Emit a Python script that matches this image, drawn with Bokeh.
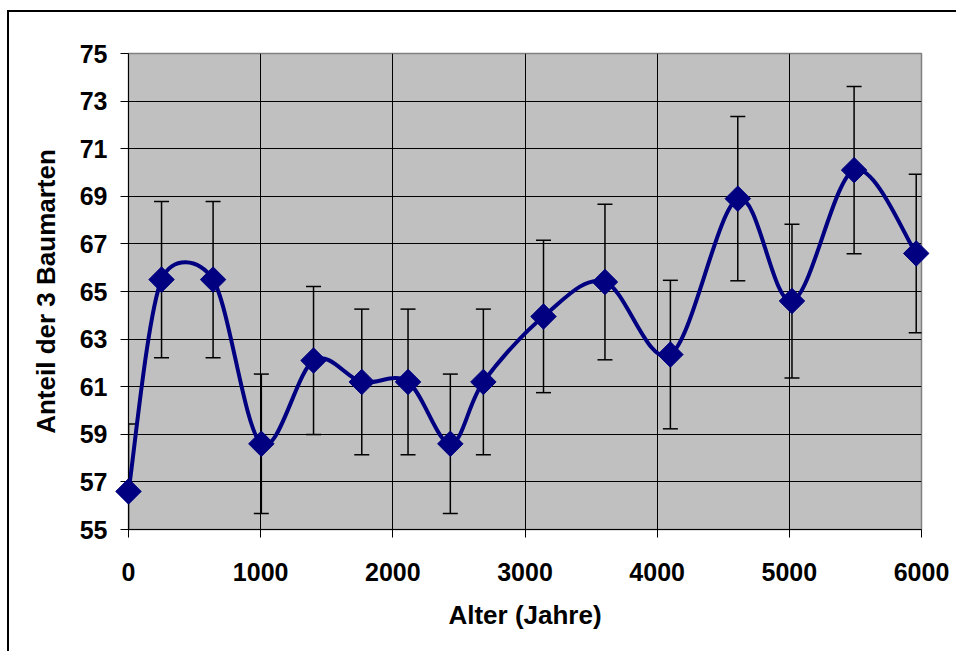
import numpy as np
from bokeh.plotting import figure
from bokeh.models import Range1d, FixedTicker, ColumnDataSource
from bokeh.embed import file_html
from bokeh.resources import INLINE

# ---- data ----
alter = [0, 250, 640, 1005, 1400, 1765, 2115, 2435, 2685, 3140, 3605, 4100, 4610, 5020, 5490, 5960]
anteil = [56.6, 65.5, 65.5, 58.6, 62.1, 61.2, 61.2, 58.6, 61.2, 63.95, 65.4, 62.35, 68.9, 64.6, 70.1, 66.6]
fehler = [2.83, 3.28, 3.28, 2.93, 3.11, 3.06, 3.06, 2.93, 3.06, 3.2, 3.27, 3.12, 3.45, 3.23, 3.51, 3.33]
x_ticks = [0, 1000, 2000, 3000, 4000, 5000, 6000]
y_ticks = [55, 57, 59, 61, 63, 65, 67, 69, 71, 73, 75]

W, H = 949, 641
ML, MR, MT, MB = 119, 37, 41, 124
FW, FH = W - ML - MR, H - MT - MB


def excel_smooth(xs, ys, kx, ky):
    """Excel-like smoothed line: Bezier control points computed in screen space."""
    P = np.column_stack([np.asarray(xs, float) * kx, np.asarray(ys, float) * ky])
    n = len(P)
    out = {k: [] for k in ("x0", "y0", "x1", "y1", "cx0", "cy0", "cx1", "cy1")}
    for i in range(n - 1):
        pm, p0, p1, p2 = P[max(i - 1, 0)], P[i], P[i + 1], P[min(i + 2, n - 1)]
        d = np.hypot(*(p1 - p0))
        v = p1 - pm
        dv = np.hypot(*v)
        f0 = 1 / 6 if dv / 6 < d / 2 else (d / 2) / dv
        w = p2 - p0
        dw = np.hypot(*w)
        f1 = 1 / 6 if dw / 6 < d / 2 else (d / 2) / dw
        c0 = p0 + v * f0
        c1 = p1 - w * f1
        out["x0"].append(p0[0] / kx); out["y0"].append(p0[1] / ky)
        out["x1"].append(p1[0] / kx); out["y1"].append(p1[1] / ky)
        out["cx0"].append(c0[0] / kx); out["cy0"].append(c0[1] / ky)
        out["cx1"].append(c1[0] / kx); out["cy1"].append(c1[1] / ky)
    return out


p = figure(width=W, height=H,
           x_range=Range1d(x_ticks[0], x_ticks[-1]),
           y_range=Range1d(y_ticks[0], y_ticks[-1]),
           output_backend="svg", toolbar_location=None,
           min_border_left=ML, min_border_right=MR,
           min_border_top=MT, min_border_bottom=MB,
           background_fill_color="#C0C0C0", border_fill_color="white",
           outline_line_color="#808080", outline_line_width=1.5)
p.styles = {"border-left": "2px solid black", "border-top": "2px solid black",
            "margin-left": "7px", "margin-top": "10px"}

# axes
p.xaxis.ticker = FixedTicker(ticks=x_ticks)
p.yaxis.ticker = FixedTicker(ticks=y_ticks)
for ax in (p.xaxis[0], p.yaxis[0]):
    ax.axis_line_color = "black"
    ax.axis_line_width = 1
    ax.major_tick_line_color = "black"
    ax.major_tick_in = 0
    ax.major_tick_out = 8
    ax.minor_tick_line_color = None
    ax.major_label_text_font = "Liberation Sans"
    ax.major_label_text_font_style = "bold"
    ax.major_label_text_font_size = "25px"
    ax.major_label_text_color = "black"
    ax.axis_label_text_font = "Liberation Sans"
    ax.axis_label_text_font_style = "bold"
    ax.axis_label_text_font_size = "26px"
    ax.axis_label_text_color = "black"
p.xaxis.axis_label = "Alter (Jahre)"
p.yaxis.axis_label = "Anteil der 3 Baumarten"
p.xaxis.major_label_standoff = 25
p.yaxis.major_label_standoff = 13
p.xaxis.axis_label_standoff = 16
p.yaxis.axis_label_standoff = 16

# grid
p.xgrid.ticker = FixedTicker(ticks=x_ticks[1:-1])
p.ygrid.ticker = FixedTicker(ticks=y_ticks[1:-1])
p.grid.grid_line_color = "black"
p.grid.grid_line_width = 1
p.grid.grid_line_alpha = 1

# error bars
lower = [a - e for a, e in zip(anteil, fehler)]
upper = [a + e for a, e in zip(anteil, fehler)]
p.segment(x0=alter, y0=lower, x1=alter, y1=upper, line_color="black", line_width=1.5)
p.scatter(x=alter + alter, y=lower + upper, marker="dash", size=15,
          line_color="black", line_width=1.5)

# smoothed line
kx = FW / (x_ticks[-1] - x_ticks[0])
ky = FH / (y_ticks[-1] - y_ticks[0])
src = ColumnDataSource(excel_smooth(alter, anteil, kx, ky))
p.bezier(x0="x0", y0="y0", x1="x1", y1="y1", cx0="cx0", cy0="cy0", cx1="cx1", cy1="cy1",
         source=src, line_color="#000080", line_width=4)

# markers
p.scatter(x=alter, y=anteil, marker="square", size=18, angle=45, angle_units="deg",
          fill_color="#000080", line_color="#000080", level="annotation")

open("out.html", "w").write(file_html(p, INLINE))
